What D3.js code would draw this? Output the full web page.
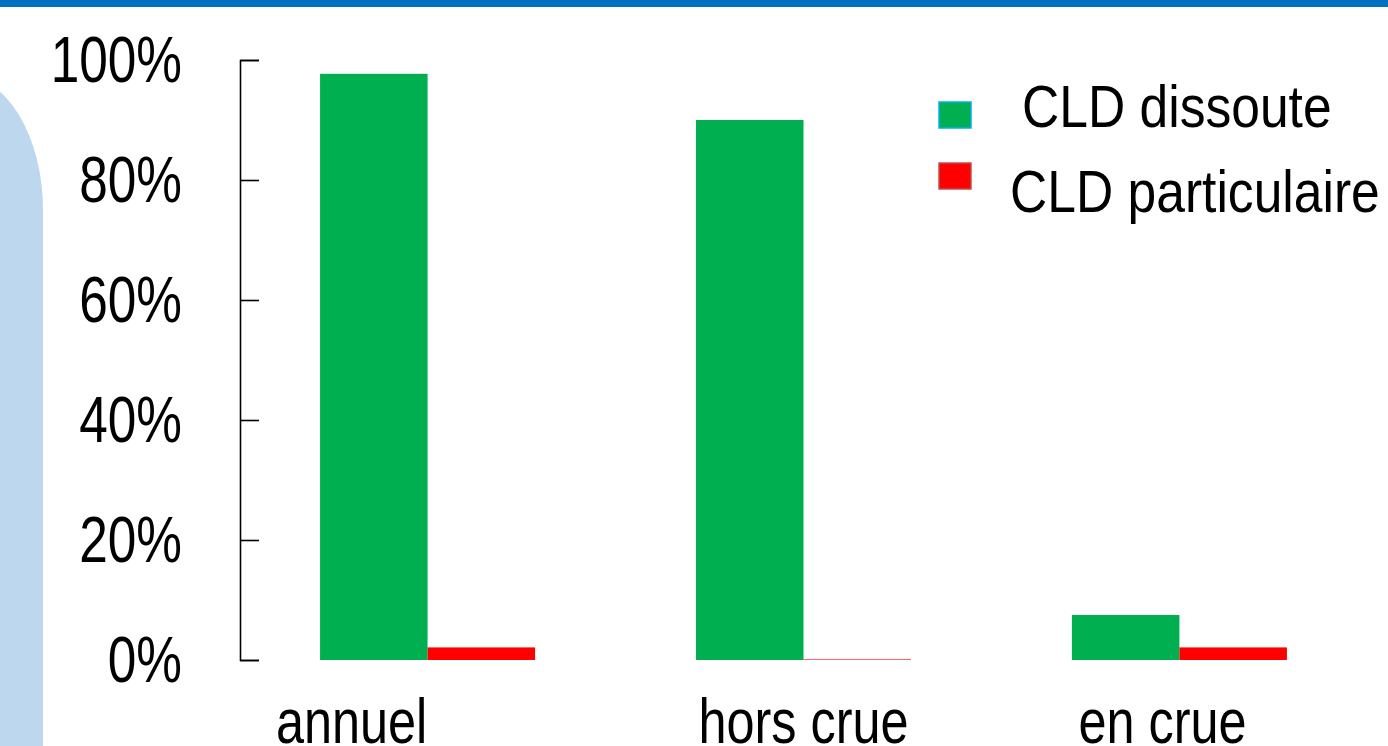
<html>
<head>
	<meta charset="utf-8">
	<title>CLD dissoute / particulaire</title>
	<style>
		body { margin: 0; background: white; }
		text { font-family: "Liberation Sans", Arial, sans-serif; fill: black; }
	</style>
</head>
<body>
	<div id="svgdump"></div>
	<script src="https://d3js.org/d3.v7.min.js" charset="utf-8"></script>
	<script>
		// values (percent of total CLD flux)
		var categories = ["annuel", "hors crue", "en crue"];
		var seriesNames = ["CLD dissoute", "CLD particulaire"];
		var dissoute = [97.7, 90.0, 7.5];
		var particulaire = [2.1, 0.1, 2.1];
		var tickValues = [0, 20, 40, 60, 80, 100];

		var W = 1388, H = 746;
		var axisX = 240, yTop = 60, yBottom = 660;
		var colors = ["#00B050", "#FF0000"];
		var swatchStroke = ["#00B0F0", "#C0504D"];
		// small horizontal nudges of the category labels, as in the slide
		var labelNudge = [-76, 0, -17];

		var svg = d3.select("#svgdump").append("svg")
			.attr("width", W).attr("height", H);

		// top banner
		svg.append("rect").attr("x", 0).attr("y", 0).attr("width", W).attr("height", 7)
			.attr("fill", "#0070C0");

		// light blue panel on the left
		svg.append("path")
			.attr("d", "M -40 746 L -40 75 A 83 135 0 0 1 43 210 L 43 746 Z")
			.attr("fill", "#BDD7EE");

		var y = d3.scaleLinear().domain([0, 100]).range([yBottom, yTop]);

		var x0 = d3.scaleBand().domain(categories)
			.range([axisX, 1367]).paddingInner(0.428).paddingOuter(0.213);
		var x1 = d3.scaleBand().domain(seriesNames).range([0, x0.bandwidth()]);

		var rows = categories.map(function(c, i) {
			return { cat: c, vals: [dissoute[i], particulaire[i]] };
		});

		var groups = svg.selectAll("g.grp").data(rows).enter().append("g")
			.attr("class", "grp")
			.attr("transform", function(d) { return "translate(" + x0(d.cat) + ",0)"; });

		groups.selectAll("rect").data(function(d) {
				return d.vals.map(function(v, j) { return { s: seriesNames[j], v: v, j: j }; });
			}).enter().append("rect")
			.attr("x", function(d) { return x1(d.s); })
			.attr("width", x1.bandwidth())
			.attr("y", function(d) { return y(d.v); })
			.attr("height", function(d) { return y(0) - y(d.v); })
			.attr("fill", function(d) { return colors[d.j]; });

		// y axis, ticks pointing into the plot
		var yAxis = d3.axisLeft(y).tickValues(tickValues)
			.tickSizeInner(-19).tickSizeOuter(-19)
			.tickFormat(function(d) { return d + "%"; });

		var ax = svg.append("g").attr("transform", "translate(" + axisX + ",0)").call(yAxis);
		ax.select(".domain").attr("stroke", "black").attr("stroke-width", 1.6);
		ax.selectAll(".tick line").attr("stroke", "black").attr("stroke-width", 1.6);
		ax.selectAll(".tick text")
			.attr("x", 0).attr("dy", null)
			.attr("text-anchor", "end")
			.attr("font-size", 65)
			.attr("font-family", null)
			.attr("fill", "black")
			.attr("transform", "translate(-58,21) scale(0.79,1)");

		// category labels
		svg.selectAll("text.cat").data(categories).enter().append("text")
			.attr("class", "cat")
			.attr("text-anchor", "middle")
			.attr("font-size", 63)
			.attr("transform", function(d, i) {
				var cx = x0(d) + x0.bandwidth() / 2 + labelNudge[i];
				return "translate(" + cx + ",743) scale(0.8,1)";
			})
			.text(function(d) { return d; });

		// legend
		var legendY = [102, 163];
		var legendTextX = [1022, 1010];
		var legendBase = [127, 212];
		var lg = svg.selectAll("g.lg").data(seriesNames).enter().append("g").attr("class", "lg");
		lg.append("rect")
			.attr("x", 939).attr("y", function(d, i) { return legendY[i]; })
			.attr("width", 32).attr("height", 26)
			.attr("fill", function(d, i) { return colors[i]; })
			.attr("stroke", function(d, i) { return swatchStroke[i]; })
			.attr("stroke-width", 1.5);
		lg.append("text")
			.attr("font-size", 60)
			.attr("transform", function(d, i) {
				return "translate(" + legendTextX[i] + "," + legendBase[i] + ") scale(0.86,1)";
			})
			.text(function(d) { return d; });
	</script>
</body>
</html>
